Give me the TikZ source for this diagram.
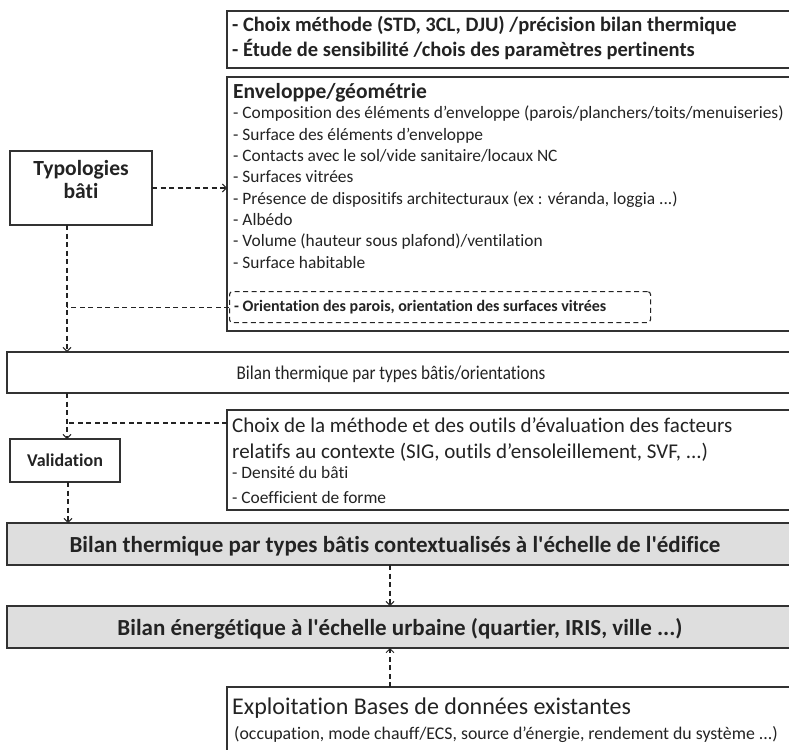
\documentclass[tikz,border=0pt]{standalone}
\usepackage{fontspec}
\setmainfont{Carlito}[Ligatures={TeXOff,NoCommon}]
\newfontfamily\condfont{Carlito}[FakeStretch=0.88, Ligatures={TeXOff,NoCommon}]
\usetikzlibrary{arrows.meta}
\definecolor{ink}{RGB}{35,35,35}
\definecolor{boxline}{RGB}{50,50,50}
\definecolor{gfill}{RGB}{222,222,222}
\begin{document}
\begin{tikzpicture}[x=1pt,y=-1pt,
  box/.style={draw=boxline, line width=1.6pt, fill=white, anchor=north west, inner sep=0pt, outer sep=0pt},
  gbox/.style={box, fill=gfill},
  tl/.style={anchor=base west, inner sep=0pt, text=ink},
  tc/.style={anchor=base, inner sep=0pt, text=ink},
  dl/.style={dash pattern=on 5pt off 3.5pt, line width=1.1pt, draw=ink},
  arr/.style={dl, -{Straight Barb[length=4pt,width=8pt,line width=1pt]}},
  fA/.style={font=\bfseries\fontsize{20.5}{24}\selectfont},
  fB/.style={font=\fontsize{17.4}{20}\selectfont},
  fC/.style={font=\fontsize{21}{25}\selectfont},
  fG/.style={font=\bfseries\fontsize{23}{27}\selectfont},
]
\useasboundingbox (0,0) rectangle (789,749);
\begin{scope}
\clip (0,0) rectangle (789,749);
% boxes
\node[box, minimum width=580pt, minimum height=57pt] (meth) at (227,11) {};
\node[box, minimum width=580pt, minimum height=254pt] (env) at (227,77) {};
\node[box, minimum width=142pt, minimum height=74pt] (typ) at (10,151) {};
\node[draw=ink, dash pattern=on 5pt off 3.5pt, line width=1.1pt, rounded corners=3pt,
      anchor=north west, minimum width=421pt, minimum height=31pt, inner sep=0pt] (ori) at (229,291) {};
\node[box, minimum width=800pt, minimum height=41pt] (bt) at (7,352) {};
\node[box, minimum width=580pt, minimum height=100pt] (ctx) at (227,410) {};
\node[box, minimum width=110pt, minimum height=43pt] (val) at (10,439) {};
\node[gbox, minimum width=800pt, minimum height=42pt] (g1) at (7,523) {};
\node[gbox, minimum width=800pt, minimum height=42pt] (g2) at (7,606) {};
\node[box, minimum width=580pt, minimum height=90pt] (db) at (227,687) {};
% texts
\node[tc, font=\bfseries\fontsize{21.6}{26}\selectfont] (t1) at (81,175) {Typologies};
\node[tc, font=\bfseries\fontsize{21.6}{26}\selectfont] (t2) at (81,198.5) {bâti};
\node[tc, font=\bfseries\fontsize{18}{21}\selectfont] (vt) at (65,466) {Validation};
\node[tl, fA] (m1) at (232,32) {- Choix méthode (STD, 3CL, DJU) /précision bilan thermique};
\node[tl, fA] (m2) at (232,57) {- Étude de sensibilité /chois des paramètres pertinents};
\node[tl, font=\bfseries\fontsize{21.5}{25}\selectfont] (e0) at (233,99) {Enveloppe/géométrie};
\node[tl, fB] (e1) at (233,119) {- Composition des éléments d’enveloppe (parois/planchers/toits/menuiseries)};
\node[tl, fB] (e2) at (233,140.3) {- Surface des éléments d’enveloppe};
\node[tl, fB] (e3) at (233,161.6) {- Contacts avec le sol/vide sanitaire/locaux NC};
\node[tl, fB] (e4) at (233,182.9) {- Surfaces vitrées};
\node[tl, fB] (e5) at (233,204.2) {- Présence de dispositifs architecturaux (ex : véranda, loggia ...)};
\node[tl, fB] (e6) at (233,225.5) {- Albédo};
\node[tl, fB] (e7) at (233,246.8) {- Volume (hauteur sous plafond)/ventilation};
\node[tl, fB] (e8) at (233,268.1) {- Surface habitable};
\node[tl, font=\bfseries\fontsize{16}{19}\selectfont] (o1) at (234,311) {- Orientation des parois, orientation des surfaces vitrées};
\node[tc, font=\condfont\fontsize{19.5}{23}\selectfont] (btt) at (391,379) {Bilan thermique par types bâtis/orientations};
\node[tl, fC] (c1) at (232,432) {Choix de la méthode et des outils d’évaluation des facteurs};
\node[tl, fC] (c2) at (232,458) {relatifs au contexte (SIG, outils d’ensoleillement, SVF, ...)};
\node[tl, fB] (c3) at (232,478) {- Densité du bâti};
\node[tl, fB] (c4) at (232,503) {- Coefficient de forme};
\node[tc, fG] (g1t) at (395,552) {Bilan thermique par types bâtis contextualisés à l'échelle de l'édifice};
\node[tc, fG] (g2t) at (400,635) {Bilan énergétique à l'échelle urbaine (quartier, IRIS, ville ...)};
\node[tl, font=\fontsize{24}{28}\selectfont] (d1) at (232,714) {Exploitation Bases de données existantes};
\node[tl, font=\fontsize{17.8}{21}\selectfont] (d2) at (234,739) {(occupation, mode chauff/ECS, source d’énergie, rendement du système ...)};
% connectors
\coordinate (vtop) at ([xshift=57pt]typ.south west);
\draw[arr] (typ.east) -- (typ.east -| env.west);
\draw[arr] (vtop) -- (vtop |- bt.north);
\draw[dl] (ori.west) -- (ori.west -| vtop);
\draw[arr] (vtop |- bt.south) -- (vtop |- val.north);
\draw[dl] ([yshift=-13pt]ctx.north west) -- ([yshift=-13pt]ctx.north west -| vtop);
\draw[arr] ([xshift=3pt]val.south) -- ([xshift=3pt]val.south |- g1.north);
\draw[arr] ([xshift=-17pt]g1.south) -- ([xshift=-17pt]g1.south |- g2.north);
\draw[arr] ([xshift=-17pt]g2.south |- db.north) -- ([xshift=-17pt]g2.south);
\end{scope}
\end{tikzpicture}
\end{document}
